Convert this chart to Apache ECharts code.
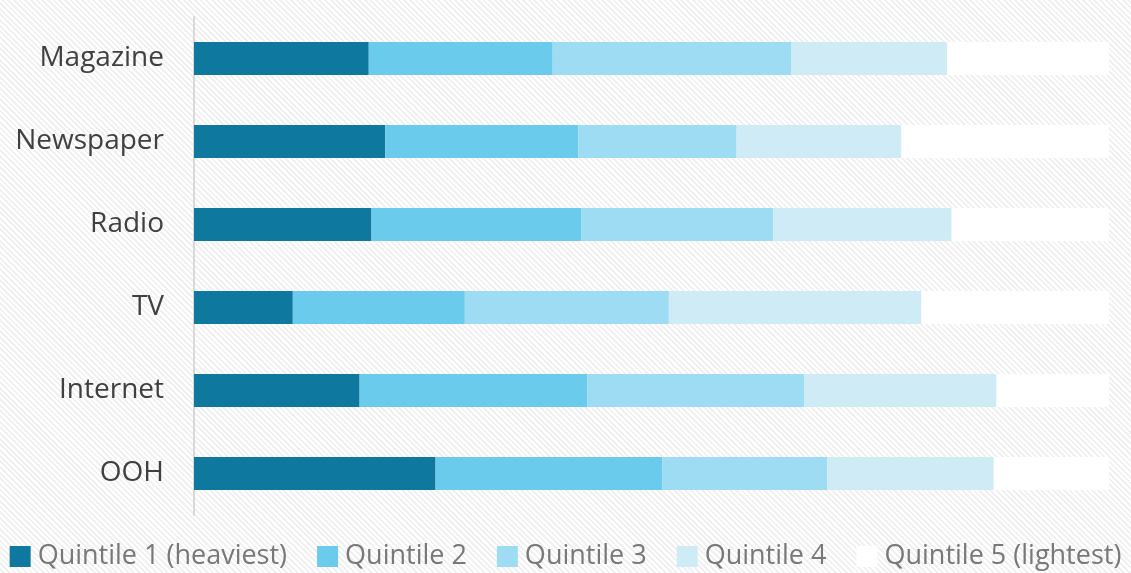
<!DOCTYPE html>
<html>
<head>
<meta charset="utf-8">
<script src="https://cdn.jsdelivr.net/npm/echarts@6/dist/echarts.min.js"></script>
<style>
html,body{margin:0;padding:0;}
body{background:repeating-linear-gradient(45deg,#ffffff 0px,#ffffff 2px,#f1f1f1 2px,#f1f1f1 4px);}
#chart{width:1131px;height:573px;}
</style>
</head>
<body>
<div id="chart"></div>
<script>
const categories = ['Magazine', 'Newspaper', 'Radio', 'TV', 'Internet', 'OOH'];
const seriesNames = ['Quintile 1 (heaviest)', 'Quintile 2', 'Quintile 3', 'Quintile 4', 'Quintile 5 (lightest)'];
const quintile1 = [19.1, 20.9, 19.4, 10.8, 18.1, 26.4];
const quintile2 = [20.1, 21.1, 22.9, 18.8, 24.9, 24.8];
const quintile3 = [26.1, 17.3, 21.0, 22.3, 23.7, 18.0];
const quintile4 = [17.0, 18.0, 19.5, 27.6, 21.0, 18.2];
const quintile5 = [17.7, 22.7, 17.2, 20.5, 12.3, 12.6];
const colors = ['#0f789f', '#6bcbed', '#9ddcf3', '#cfebf6', '#ffffff'];

const values = [quintile1, quintile2, quintile3, quintile4, quintile5];
const chart = echarts.init(document.getElementById('chart'), null, {renderer: 'canvas'});
chart.setOption({
  backgroundColor: 'transparent',
  animation: false,
  color: colors,
  grid: {left: 194, right: 22, top: 17, bottom: 58, containLabel: false},
  xAxis: {
    type: 'value', min: 0, max: 100, show: false
  },
  yAxis: {
    type: 'category', data: categories, inverse: true,
    axisLine: {show: true, lineStyle: {color: '#d9d9d9', width: 2}},
    axisTick: {show: false},
    axisLabel: {color: '#404040', fontSize: 28, fontFamily: 'Open Sans', margin: 30}
  },
  legend: {
    bottom: -2, left: 'center',
    itemWidth: 21, itemHeight: 21, itemGap: 30,
    icon: 'rect',
    textStyle: {color: '#787878', fontSize: 27, fontFamily: 'Open Sans', padding: [0,0,0,2]},
    data: seriesNames
  },
  series: seriesNames.map((n, i) => ({
    name: n, type: 'bar', stack: 'total', data: values[i],
    barWidth: 33,
    itemStyle: {color: colors[i]}
  }))
});
</script>
</body>
</html>
